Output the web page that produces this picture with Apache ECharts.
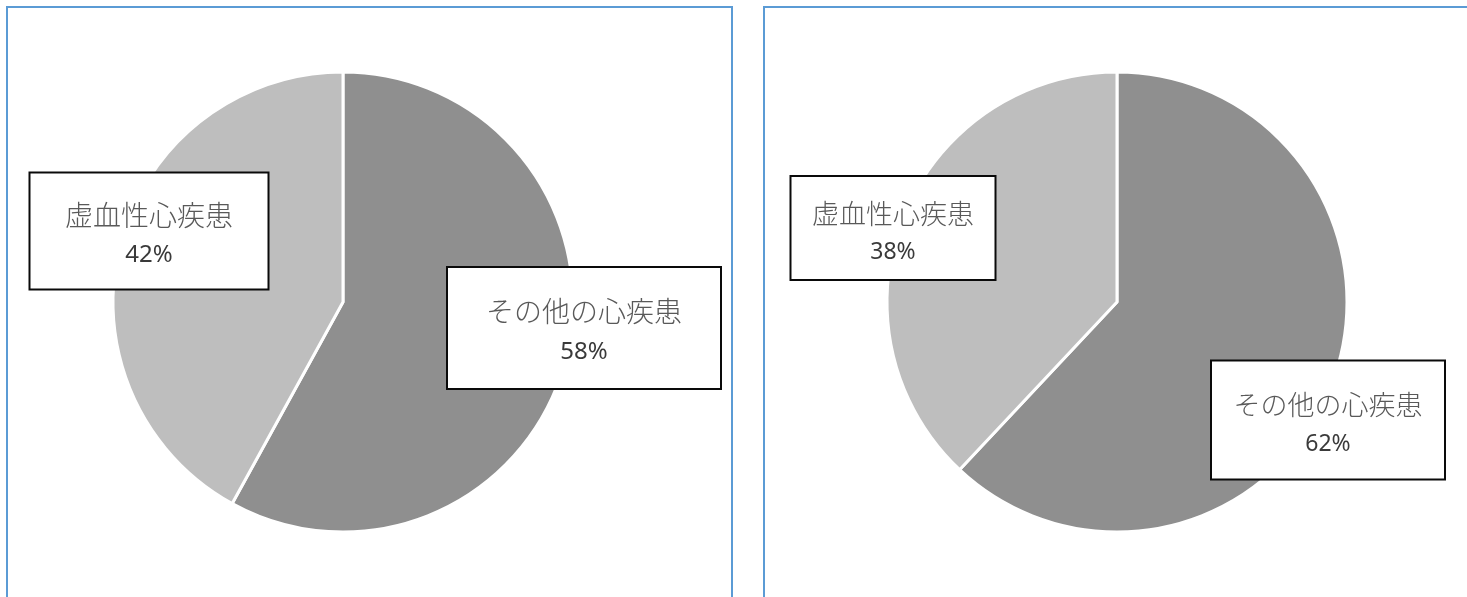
<!DOCTYPE html>
<html>
<head>
<meta charset="utf-8">
<script src="https://cdn.jsdelivr.net/npm/echarts@6/dist/echarts.min.js"></script>
<style>
  html, body { margin: 0; padding: 0; background: #ffffff; }
  #chart { width: 1467px; height: 597px; }
</style>
</head>
<body>
<div id="chart"></div>
<script>
// Share of heart disease deaths: "other heart disease" vs. ischaemic heart disease
const categories = ['その他の心疾患', '虚血性心疾患'];
const leftValues = [58, 42];   // %
const rightValues = [62, 38];  // %
const sliceColors = ['#8f8f8f', '#bebebe'];

// Label box placement for each panel (centre, size, inner padding), in category order
const leftBoxes = [
  { cx: 584, cy: 328, w: 272, h: 120, lh: 41, pt: 23 },
  { cx: 149, cy: 231, w: 237, h: 115, lh: 40, pt: 22 }
];
const rightBoxes = [
  { cx: 1328, cy: 420, w: 232, h: 117, lh: 39, pt: 24 },
  { cx: 893,  cy: 228, w: 203, h: 102, lh: 39, pt: 17 }
];

function buildData(values, boxes, nameSize, pctSize) {
  return categories.map((name, i) => {
    const b = boxes[i];
    return {
      name: name,
      value: values[i],
      itemStyle: { color: sliceColors[i] },
      label: {
        width: b.w,
        padding: [b.pt, 0, b.h - 2 * b.lh - b.pt, 0],
        rich: {
          n: { fontSize: nameSize, lineHeight: b.lh, color: '#595959', align: 'center',
               fontFamily: '"Noto Sans CJK JP", sans-serif', fontWeight: 300 },
          p: { fontSize: pctSize, lineHeight: b.lh, color: '#3a3a3a', align: 'center',
               fontFamily: '"Noto Sans", "Open Sans", sans-serif' }
        }
      }
    };
  });
}

function pieSeries(center, values, boxes, nameSize, pctSize) {
  return {
    type: 'pie',
    center: center,
    radius: 230,
    startAngle: 90,
    clockwise: true,
    silent: true,
    emphasis: { disabled: true },
    itemStyle: { borderColor: '#ffffff', borderWidth: 3 },
    labelLine: { show: false },
    label: {
      show: true,
      position: 'inside',
      formatter: '{n|{b}}\n{p|{c}%}',
      backgroundColor: '#ffffff',
      borderColor: '#0a0a0a',
      borderWidth: 2
    },
    labelLayout: function (params) {
      const b = boxes[params.dataIndex];
      return { x: b.cx, y: b.cy, align: 'center', verticalAlign: 'middle' };
    },
    data: buildData(values, boxes, nameSize, pctSize)
  };
}

const chart = echarts.init(document.getElementById('chart'), null, { renderer: 'canvas' });
chart.setOption({
  animation: false,
  backgroundColor: '#ffffff',
  graphic: [
    { type: 'rect', z: 0, shape: { x: 7, y: 7, width: 725, height: 640 },
      style: { fill: 'none', stroke: '#5b9bd5', lineWidth: 2 } },
    { type: 'rect', z: 0, shape: { x: 764, y: 7, width: 740, height: 640 },
      style: { fill: 'none', stroke: '#5b9bd5', lineWidth: 2 } }
  ],
  series: [
    pieSeries([343, 302], leftValues, leftBoxes, 28, 24),
    pieSeries([1117, 302], rightValues, rightBoxes, 27, 23)
  ]
});
</script>
</body>
</html>
